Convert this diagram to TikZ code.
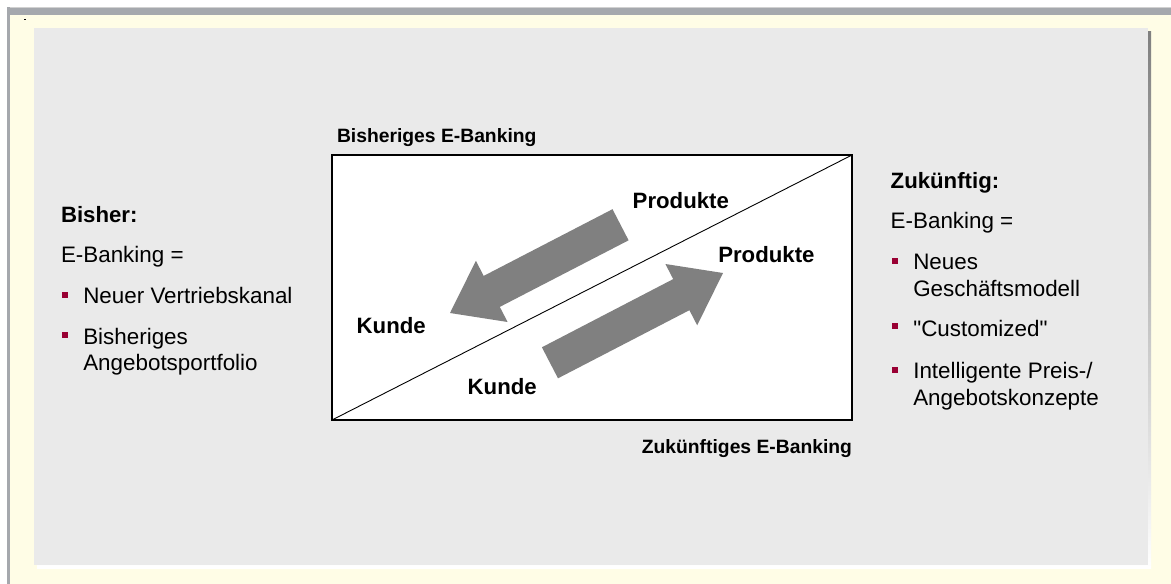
\documentclass[tikz,border=0pt]{standalone}
\usepackage{fontspec}
\setmainfont{Liberation Sans}
\newfontfamily\plainqfont{Liberation Sans}
\definecolor{cream}{HTML}{FFFDE6}
\definecolor{panel}{HTML}{EAEAEA}
\definecolor{barg}{HTML}{A5A8AD}
\definecolor{shade}{HTML}{7F7F7F}
\definecolor{arrowg}{HTML}{808080}
\definecolor{bul}{HTML}{990033}
\begin{document}
\begin{tikzpicture}[x=1pt,y=-1pt,
  txt/.style={anchor=base west,inner sep=0pt,outer sep=0pt,font=\fontsize{22.4}{26}\selectfont},
  btxt/.style={txt,font=\fontsize{22.2}{26}\selectfont\bfseries},
  stxt/.style={txt,font=\fontsize{19.3}{23}\selectfont\bfseries},
  bullet/.style={fill=bul,draw=none,minimum size=6.5pt,inner sep=0pt,outer sep=0pt},
  blockarrow/.style={fill=arrowg,draw=none}]
\useasboundingbox (0,0) rectangle (1171,584);
% frame
\fill[white] (0,0) rectangle (1171,584);
\fill[cream] (7,7) rectangle (1171,584);
\fill[barg] (7,7) rectangle (1171,15);
\fill[black!18] (7,7) rectangle (1171,7.8);
\fill[barg] (7,7) rectangle (10,584);
\fill[black] (24,18.5) rectangle (26,19.5);
% panel with shadow
\fill[shade] (37,31) rectangle (1151,568);
\fill[panel] (34,28) rectangle (1148,565);
% box
\node[draw=black,line width=1.1pt,fill=white,minimum width=520pt,minimum height=265pt,
  anchor=north west,inner sep=0pt,outer sep=0pt] (box) at (332,155) {};
\draw[line width=0.9pt] (box.south west) -- (box.north east);
% block arrows
\fill[blockarrow] (450,313) -- (475.9,260.8) -- (483.7,275.9) -- (612.5,209.2)
  -- (628.6,240.3) -- (499.8,306.9) -- (507.6,322.0) -- cycle;
\fill[blockarrow] (723,273) -- (665.4,264.0) -- (673.2,279.1) -- (541.9,347.3)
  -- (558.0,378.3) -- (689.4,310.2) -- (697.2,325.3) -- cycle;
% box labels
\node[stxt] (lbis) at (337,142.7) {Bisheriges E-Banking};
\node[stxt,anchor=base east] (lzuk) at (852,453.3) {Zukünftiges E-Banking};
\node[btxt] (prod1) at (632.7,208.3) {Produkte};
\node[btxt] (prod2) at (718.3,262.7) {Produkte};
\node[btxt] (kunde1) at (356.7,333.3) {Kunde};
\node[btxt] (kunde2) at (467.7,394) {Kunde};
% left column
\node[btxt] (bisher) at (61,222) {Bisher:};
\node[txt] (leb) at (61,262.3) {E-Banking =};
\node[bullet] (lb1) at (65.2,295) {};
\node[txt] (l1) at (83.3,303.3) {Neuer Vertriebskanal};
\node[bullet] (lb2) at (65.2,335) {};
\node[txt] (l2a) at (83.3,344) {Bisheriges};
\node[txt] (l2b) at (83.3,370) {Angebotsportfolio};
% right column
\node[btxt] (zuk) at (890.7,188.3) {Zukünftig:};
\node[txt] (reb) at (890.7,228.3) {E-Banking =};
\node[bullet] (rb1) at (895,261) {};
\node[txt] (r1a) at (913.3,269.3) {Neues};
\node[txt] (r1b) at (913.3,296.7) {Geschäftsmodell};
\node[bullet] (rb2) at (895,326) {};
\node[txt] (r2) at (913.3,336.7) {{\plainqfont "Customized"}};
\node[bullet] (rb3) at (895,370) {};
\node[txt] (r3a) at (913.3,378.3) {Intelligente Preis-/};
\node[txt] (r3b) at (913.3,405) {Angebotskonzepte};
\end{tikzpicture}
\end{document}
